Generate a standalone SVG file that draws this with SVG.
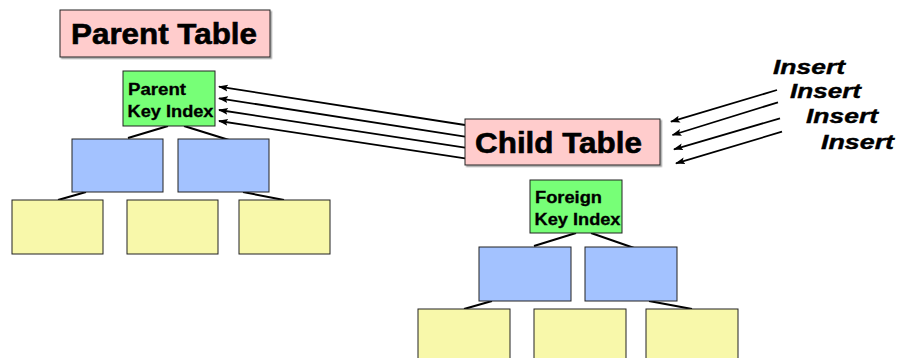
<svg xmlns="http://www.w3.org/2000/svg" width="897" height="358" viewBox="0 0 897 358">
<defs>
<marker id="ah" viewBox="0 0 10 10" refX="9" refY="5" markerWidth="5.5" markerHeight="5.5" orient="auto" markerUnits="strokeWidth">
<path d="M0,1.5 L10,5 L0,8.5 L2,5 Z" fill="#000"/>
</marker>
<filter id="sh" x="-5%" y="-5%" width="115%" height="120%">
<feDropShadow dx="1.5" dy="1.5" stdDeviation="0.6" flood-color="#888" flood-opacity="0.8"/>
</filter>
</defs>
<style>
.tbl{fill:#FFCCCC;stroke:#222;stroke-width:1}
.key{fill:#77FF77;stroke:#222;stroke-width:1}
.blu{fill:#A3C2FF;stroke:#222;stroke-width:1}
.yel{fill:#F8F8AA;stroke:#222;stroke-width:1}
.big{font-family:"Liberation Sans",Arial,sans-serif;font-weight:bold;font-size:29px;fill:#000;stroke:#000;stroke-width:0.6}
.sm{font-family:"Liberation Sans",Arial,sans-serif;font-weight:bold;font-size:16px;fill:#000;stroke:#000;stroke-width:0.3}
.ins{font-family:"Liberation Sans",Arial,sans-serif;font-weight:bold;font-style:italic;font-size:21px;fill:#000;stroke:#000;stroke-width:0.4}
.tree{stroke:#000;stroke-width:2;fill:none}
.arr{stroke:#000;stroke-width:1.8;fill:none;marker-end:url(#ah)}
</style>
<g id="connectors">
<line class="tree" x1="168" y1="126" x2="128" y2="138"/>
<line class="tree" x1="184" y1="126" x2="229" y2="140"/>
<line class="tree" x1="86" y1="192" x2="58" y2="200"/>
<line class="tree" x1="243" y1="192" x2="284" y2="200"/>
<line class="tree" x1="576" y1="233" x2="534" y2="246"/>
<line class="tree" x1="591" y1="233" x2="637" y2="249"/>
<line class="tree" x1="492" y1="301" x2="464" y2="309"/>
<line class="tree" x1="649" y1="301" x2="692" y2="309"/>
<line class="arr" x1="465" y1="125" x2="219" y2="86.7"/>
<line class="arr" x1="465" y1="136.7" x2="219" y2="98.3"/>
<line class="arr" x1="465" y1="147.7" x2="219" y2="110"/>
<line class="arr" x1="465" y1="158.3" x2="219" y2="121"/>
<line class="arr" x1="777" y1="90" x2="671" y2="121.7"/>
<line class="arr" x1="778" y1="102.3" x2="672.5" y2="135"/>
<line class="arr" x1="780" y1="118.3" x2="674" y2="149.3"/>
<line class="arr" x1="782" y1="131.7" x2="676" y2="163.3"/>
</g>
<g id="parent-table">
<rect class="tbl" x="60" y="10" width="210" height="47" filter="url(#sh)"/>
<text class="big" x="71" y="44" textLength="186" lengthAdjust="spacingAndGlyphs">Parent Table</text>
</g>
<g id="parent-key-index">
<rect class="key" x="123" y="71" width="92" height="55"/>
<text class="sm" x="128" y="95" textLength="58" lengthAdjust="spacingAndGlyphs">Parent</text>
<text class="sm" x="127.5" y="117" textLength="86" lengthAdjust="spacingAndGlyphs">Key Index</text>
</g>
<g id="parent-blue-1"><rect class="blu" x="72" y="139" width="91" height="53"/></g>
<g id="parent-blue-2"><rect class="blu" x="178" y="139" width="91" height="53"/></g>
<g id="parent-leaf-1"><rect class="yel" x="12" y="200" width="91" height="54"/></g>
<g id="parent-leaf-2"><rect class="yel" x="127" y="200" width="91" height="54"/></g>
<g id="parent-leaf-3"><rect class="yel" x="239" y="200" width="91" height="54"/></g>
<g id="child-table">
<rect class="tbl" x="465" y="119" width="195" height="46" filter="url(#sh)"/>
<text class="big" x="475" y="153" textLength="167" lengthAdjust="spacingAndGlyphs">Child Table</text>
</g>
<g id="foreign-key-index">
<rect class="key" x="530" y="180" width="92" height="53"/>
<text class="sm" x="535" y="203" textLength="67" lengthAdjust="spacingAndGlyphs">Foreign</text>
<text class="sm" x="534.5" y="225" textLength="86" lengthAdjust="spacingAndGlyphs">Key Index</text>
</g>
<g id="child-blue-1"><rect class="blu" x="479" y="247" width="92" height="54"/></g>
<g id="child-blue-2"><rect class="blu" x="585" y="247" width="92" height="54"/></g>
<g id="child-leaf-1"><rect class="yel" x="418" y="309" width="92" height="60"/></g>
<g id="child-leaf-2"><rect class="yel" x="534" y="309" width="92" height="60"/></g>
<g id="child-leaf-3"><rect class="yel" x="646" y="309" width="92" height="60"/></g>
<g id="inserts">
<text class="ins" x="773" y="74" textLength="72" lengthAdjust="spacingAndGlyphs">Insert</text>
<text class="ins" x="790" y="98" textLength="71" lengthAdjust="spacingAndGlyphs">Insert</text>
<text class="ins" x="806" y="123" textLength="72" lengthAdjust="spacingAndGlyphs">Insert</text>
<text class="ins" x="821" y="149" textLength="73" lengthAdjust="spacingAndGlyphs">Insert</text>
</g>
</svg>
